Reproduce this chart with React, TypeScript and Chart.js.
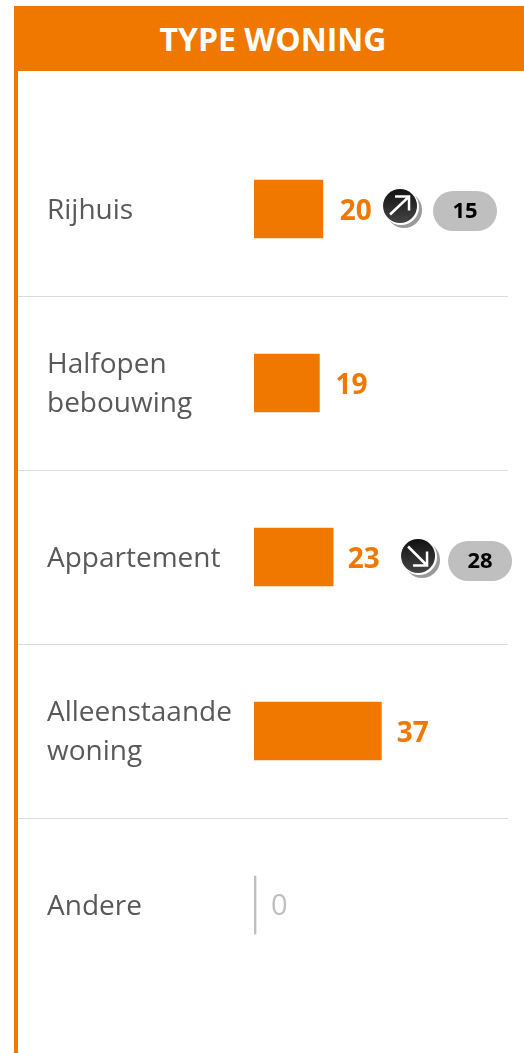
import React, { useEffect, useRef } from "react";
import { Chart, registerables } from "chart.js";

Chart.register(...registerables);

const categories = [["Rijhuis"], ["Halfopen", "bebouwing"], ["Appartement"], ["Alleenstaande", "woning"], ["Andere"]];
const values = [20, 19, 23, 37, 0];
const previousValues = [15, null, 28, null, null];
const trends = ["up", null, "down", null, null];
const titleText = "TYPE WONING";

const ORANGE = "#f07800";
const GREY = "#bfbfbf";
const FONT = '"Open Sans", sans-serif';
const labelGaps = [17, 16, 14.5, 15.5, 17];
const badgeOffsets = [{ circle: 77.2, pill: 142.2, dy: 0 }, null, { circle: 84.9, pill: 146.9, dy: 2 }, null, null];

const rowExtras = {
  id: "rowExtras",
  afterDatasetsDraw(chart: any) {
    const { ctx } = chart;
    const bars = chart.getDatasetMeta(0).data;
    ctx.save();
    bars.forEach((bar: any, i: number) => {
      const v = values[i];
      const end = chart.scales.x.getPixelForValue(v);
      ctx.textBaseline = "middle";
      ctx.textAlign = "left";
      ctx.fillStyle = v === 0 ? GREY : ORANGE;
      ctx.font = v === 0 ? `400 29px ${FONT}` : `700 28px ${FONT}`;
      ctx.fillText(String(v), end + labelGaps[i], bar.y + (v === 0 ? 1.5 : 3));

      const off = badgeOffsets[i];
      const prev = previousValues[i];
      if (!off || prev === null) return;
      const cx = end + off.circle;
      const cy = bar.y - 3 + off.dy;
      const up = trends[i] === "up";

      ctx.fillStyle = "#9a9a9a";
      ctx.beginPath();
      ctx.arc(cx + 4, cy + 4, 18, 0, Math.PI * 2);
      ctx.fill();
      ctx.fillStyle = "#fff";
      ctx.beginPath();
      ctx.arc(cx + 1, cy + 1, 18, 0, Math.PI * 2);
      ctx.fill();
      const g = ctx.createLinearGradient(0, cy - 17, 0, cy + 17);
      g.addColorStop(0, "#111111");
      g.addColorStop(1, "#444444");
      ctx.fillStyle = g;
      ctx.beginPath();
      ctx.arc(cx, cy, 17, 0, Math.PI * 2);
      ctx.fill();

      ctx.strokeStyle = "#fff";
      ctx.lineWidth = 2.5;
      ctx.lineCap = "butt";
      ctx.lineJoin = "miter";
      const s = up ? -1 : 1;
      ctx.beginPath();
      ctx.moveTo(cx - 10, cy + s * -8.5 + (up ? 0 : -1));
      ctx.lineTo(cx + 9, cy + s * 9.5);
      ctx.moveTo(cx - 5, cy + s * 9.5);
      ctx.lineTo(cx + 9, cy + s * 9.5);
      ctx.lineTo(cx + 9, cy + s * -4.5);
      ctx.stroke();

      const px = end + off.pill;
      ctx.fillStyle = GREY;
      ctx.beginPath();
      ctx.roundRect(px - 32, bar.y - 18 + off.dy, 64, 40, 20);
      ctx.fill();
      ctx.fillStyle = "#000";
      ctx.textAlign = "center";
      ctx.font = `700 22px ${FONT}`;
      ctx.fillText(String(prev), px, bar.y + 3 + off.dy);
    });
    ctx.restore();
  },
};

export default function App() {
  const ref = useRef<HTMLCanvasElement>(null);

  useEffect(() => {
    const chart = new Chart(ref.current!, {
      type: "bar",
      data: {
        labels: categories,
        datasets: [
          {
            data: values,
            backgroundColor: values.map((v) => (v === 0 ? GREY : ORANGE)),
            categoryPercentage: 1,
            barThickness: 58,
            minBarLength: 2,
            borderWidth: 0,
          },
        ],
      },
      options: {
        indexAxis: "y",
        animation: false,
        responsive: false,
        layout: { padding: { left: 47, right: 16, top: 122, bottom: 61 } },
        plugins: { legend: { display: false }, tooltip: { enabled: false } },
        scales: {
          x: { display: false, min: 0, max: 73.8 },
          y: {
            position: "left",
            afterFit: (s: any) => {
              s.width = 207;
            },
            border: { display: false },
            grid: {
              offset: true,
              tickLength: 236,
              lineWidth: 1,
              color: (c: any) => (c.index >= 1 && c.index <= 4 ? "#dcdcdc" : "transparent"),
            },
            ticks: {
              crossAlign: "far",
              color: "#595959",
              autoSkip: false,
              labelOffset: 2,
              font: { family: FONT, size: 28, lineHeight: 1.393 },
            },
          },
        },
      },
      plugins: [rowExtras],
    } as any);
    return () => chart.destroy();
  }, []);

  return (
    <div style={{ position: "absolute", left: 0, top: 0, width: 524, height: 1053, overflow: "hidden", background: "#fff" }}>
      <canvas ref={ref} width={524} height={1053} style={{ position: "absolute", left: 0, top: 0 }} />
      <div style={{ position: "absolute", left: 14, top: 6, bottom: 0, width: 4, background: ORANGE }} />
      <div
        style={{
          position: "absolute",
          left: 14,
          top: 6,
          width: 510,
          height: 65,
          background: ORANGE,
          color: "#fff",
          font: `700 32px/65px ${FONT}`,
          textAlign: "center",
          paddingLeft: 8,
          boxSizing: "border-box",
        }}
      >
        {titleText}
      </div>
    </div>
  );
}
